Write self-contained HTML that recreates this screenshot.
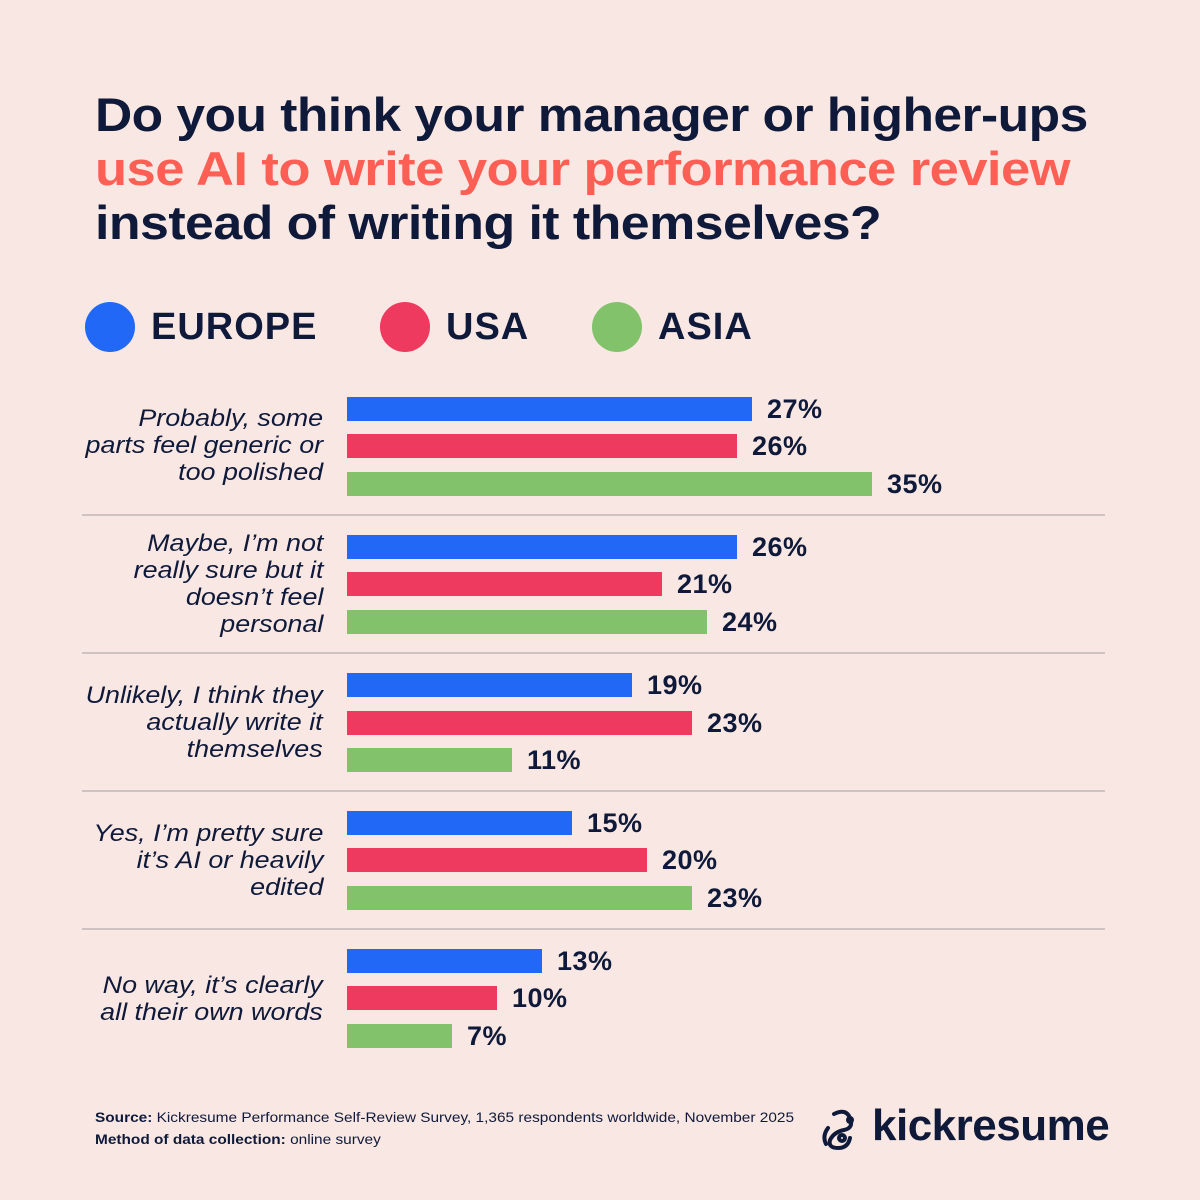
<!DOCTYPE html>
<html><head><meta charset="utf-8"><style>
*{margin:0;padding:0;box-sizing:border-box}
body{width:1200px;height:1200px;background:#f9e7e3;position:relative;overflow:hidden;font-family:"Liberation Sans",sans-serif;color:#0f1a3a}
.t{position:absolute;left:95px;font-weight:bold;font-size:47px;letter-spacing:-0.5px;line-height:54px;transform-origin:left center;white-space:nowrap}
.lg{position:absolute;top:302px;height:50px;display:flex;align-items:center;font-weight:bold;font-size:38px;letter-spacing:1px}
.lg i{display:inline-block;width:50px;height:50px;border-radius:50%;margin-right:16px}
.b{position:absolute;left:347px;height:24px}
.v{position:absolute;font-weight:bold;font-size:27px;line-height:24px;letter-spacing:0.5px}
.l{position:absolute;right:877px;text-align:right;font-style:italic;font-size:24px;line-height:27px;white-space:nowrap;transform:scaleX(1.12);transform-origin:right center}
.s{position:absolute;left:82px;width:1023px;height:2px;background:#cfc3c1}
.f{position:absolute;left:95px;font-size:14px;transform:scaleX(1.1);transform-origin:left center;white-space:nowrap}
</style></head><body>
<div class="t" style="top:88px;transform:scaleX(1.097)">Do you think your manager or higher-ups</div>
<div class="t" style="top:142px;color:#fd5f55;transform:scaleX(1.118)">use AI to write your performance review</div>
<div class="t" style="top:196px;transform:scaleX(1.104)">instead of writing it themselves?</div>
<div class="lg" style="left:85px"><i style="background:#2168f6"></i>EUROPE</div>
<div class="lg" style="left:380px"><i style="background:#ee3a5f"></i>USA</div>
<div class="lg" style="left:592px"><i style="background:#81c26b"></i>ASIA</div>

<div class="l" style="top:405px">Probably, some<br>parts feel generic or<br>too polished</div>
<div class="l" style="top:530px">Maybe, I’m not<br>really sure but it<br>doesn’t feel<br>personal</div>
<div class="l" style="top:682px">Unlikely, I think they<br>actually write it<br>themselves</div>
<div class="l" style="top:820px">Yes, I’m pretty sure<br>it’s AI or heavily<br>edited</div>
<div class="l" style="top:972px">No way, it’s clearly<br>all their own words</div>

<div class="s" style="top:514px"></div><div class="s" style="top:652px"></div><div class="s" style="top:790px"></div><div class="s" style="top:928px"></div>

<div class="b" style="top:397px;width:405px;background:#2168f6"></div><div class="v" style="top:397px;left:767px">27%</div>
<div class="b" style="top:434px;width:390px;background:#ee3a5f"></div><div class="v" style="top:434px;left:752px">26%</div>
<div class="b" style="top:472px;width:525px;background:#81c26b"></div><div class="v" style="top:472px;left:887px">35%</div>

<div class="b" style="top:535px;width:390px;background:#2168f6"></div><div class="v" style="top:535px;left:752px">26%</div>
<div class="b" style="top:572px;width:315px;background:#ee3a5f"></div><div class="v" style="top:572px;left:677px">21%</div>
<div class="b" style="top:610px;width:360px;background:#81c26b"></div><div class="v" style="top:610px;left:722px">24%</div>

<div class="b" style="top:673px;width:285px;background:#2168f6"></div><div class="v" style="top:673px;left:647px">19%</div>
<div class="b" style="top:711px;width:345px;background:#ee3a5f"></div><div class="v" style="top:711px;left:707px">23%</div>
<div class="b" style="top:748px;width:165px;background:#81c26b"></div><div class="v" style="top:748px;left:527px">11%</div>

<div class="b" style="top:811px;width:225px;background:#2168f6"></div><div class="v" style="top:811px;left:587px">15%</div>
<div class="b" style="top:848px;width:300px;background:#ee3a5f"></div><div class="v" style="top:848px;left:662px">20%</div>
<div class="b" style="top:886px;width:345px;background:#81c26b"></div><div class="v" style="top:886px;left:707px">23%</div>

<div class="b" style="top:949px;width:195px;background:#2168f6"></div><div class="v" style="top:949px;left:557px">13%</div>
<div class="b" style="top:986px;width:150px;background:#ee3a5f"></div><div class="v" style="top:986px;left:512px">10%</div>
<div class="b" style="top:1024px;width:105px;background:#81c26b"></div><div class="v" style="top:1024px;left:467px">7%</div>

<div class="f" style="top:1109px"><b>Source:</b> Kickresume Performance Self-Review Survey, 1,365 respondents worldwide, November 2025</div>
<div class="f" style="top:1131px"><b>Method of data collection:</b> online survey</div>
<svg style="position:absolute;left:820px;top:1108px" width="44" height="44" viewBox="0 0 44 44" fill="none" stroke="#0f1a3a" stroke-width="4" stroke-linecap="round">
<path d="M14 6 Q26 0 30 10 Q34 20 24 22 Q14 24 10 32 Q8 40 18 40 Q28 40 30 30"/><path d="M8 20 Q2 28 6 36"/><circle cx="22" cy="30" r="3"/><circle cx="30" cy="12" r="2" fill="#0f1a3a"/></svg>
<div style="position:absolute;left:872px;top:1101px;font-weight:bold;font-size:44px;letter-spacing:-0.5px">kickresume</div>
</body></html>
